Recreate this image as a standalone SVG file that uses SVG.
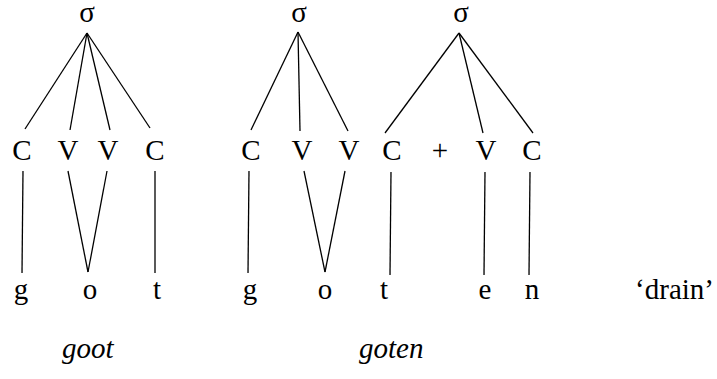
<svg xmlns="http://www.w3.org/2000/svg" width="717" height="379" viewBox="0 0 717 379">
<style>
text{font-family:"Liberation Serif","Times New Roman",serif;font-size:29px;fill:#000;text-anchor:middle}
.it{font-style:italic}
.l{font-size:29px}
line{stroke:#000;stroke-width:1.3}
</style>
<rect width="717" height="379" fill="#fff"/>
<g id="connectors">
  <line x1="87" y1="33" x2="25" y2="129"/>
  <line x1="87" y1="33" x2="70" y2="130"/>
  <line x1="87" y1="33" x2="110" y2="130"/>
  <line x1="87" y1="33" x2="150" y2="128"/>
  <line x1="23" y1="171" x2="22" y2="273"/>
  <line x1="68" y1="171" x2="88" y2="272"/>
  <line x1="107" y1="171" x2="88" y2="272"/>
  <line x1="155" y1="171" x2="155" y2="273"/>
  <line x1="298" y1="32" x2="251" y2="130"/>
  <line x1="298" y1="32" x2="300" y2="131"/>
  <line x1="298" y1="32" x2="348" y2="131"/>
  <line x1="249" y1="171" x2="248" y2="273"/>
  <line x1="304" y1="171" x2="325" y2="272"/>
  <line x1="345" y1="171" x2="325" y2="272"/>
  <line x1="459" y1="33" x2="385" y2="133"/>
  <line x1="459" y1="33" x2="483" y2="133"/>
  <line x1="459" y1="33" x2="533" y2="133"/>
  <line x1="391" y1="172" x2="390" y2="275"/>
  <line x1="485" y1="172" x2="484" y2="275"/>
  <line x1="530" y1="172" x2="529" y2="275"/>
</g>
<g id="sigma1"><text x="87" y="22">σ</text></g>
<g id="sigma2"><text x="299" y="22">σ</text></g>
<g id="sigma3"><text x="461" y="22">σ</text></g>
<g id="skel1">
  <text x="22" y="160">C</text>
  <text x="68" y="160">V</text>
  <text x="108" y="160">V</text>
  <text x="155" y="160">C</text>
</g>
<g id="skel2">
  <text x="251" y="160">C</text>
  <text x="302" y="160">V</text>
  <text x="349" y="160">V</text>
  <text x="392" y="160">C</text>
  <text x="440" y="160">+</text>
  <text x="486" y="160">V</text>
  <text x="532" y="160">C</text>
</g>
<g id="seg1">
  <text x="21" y="299">g</text>
  <text x="90" y="299">o</text>
  <text x="157" y="299">t</text>
</g>
<g id="seg2">
  <text x="250" y="299">g</text>
  <text x="325" y="299">o</text>
  <text x="384" y="299">t</text>
  <text x="485" y="299">e</text>
  <text x="532" y="299">n</text>
</g>
<g id="gloss"><text x="714" y="299" style="text-anchor:end">‘drain’</text></g>
<g id="word1"><text class="it" x="62" y="358" style="text-anchor:start">goot</text></g>
<g id="word2"><text class="it" x="359" y="358" style="text-anchor:start">goten</text></g>
</svg>
